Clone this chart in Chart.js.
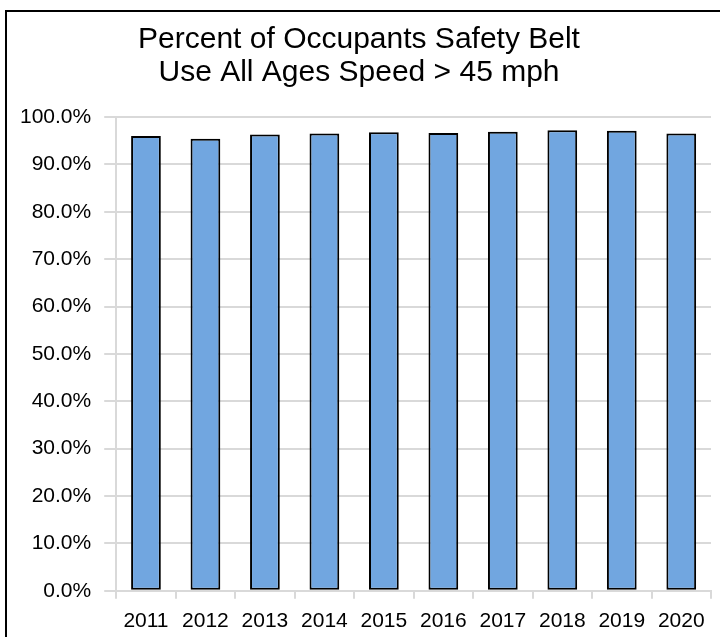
<!DOCTYPE html>
<html>
<head>
<meta charset="utf-8">
<script src="https://cdn.jsdelivr.net/npm/chart.js@4"></script>
<style>
    html, body { margin: 0; padding: 0; background: #fff; overflow: hidden; }
    #frame {
        position: absolute; left: 5px; top: 10px;
        width: 730px; height: 650px;
        border-left: 2px solid #000; border-top: 2px solid #000;
    }
    #wrap { position: absolute; left: 0; top: 0; width: 720px; height: 644px; }
</style>
</head>
<body>
<div id="frame"></div>
<div id="wrap"><canvas id="beltChart"></canvas></div>
<script>
// years and belt use (%)
var years = ["2011", "2012", "2013", "2014", "2015", "2016", "2017", "2018", "2019", "2020"];
var beltUse = [96.0, 95.4, 96.3, 96.5, 96.8, 96.6, 96.9, 97.2, 97.1, 96.5];
var titleLines = ["Percent of Occupants Safety Belt", "Use All Ages Speed > 45 mph"];

var fontName = "'Liberation Sans', Arial, sans-serif";
var gridColor = "#d9d9d9";

new Chart("beltChart", {
    type: "bar",
    data: {
        labels: years,
        datasets: [{
            data: beltUse,
            backgroundColor: "#71a6e0",
            borderColor: "#000000",
            borderWidth: 2,
            borderSkipped: false,
            categoryPercentage: 1,
            barPercentage: 0.5
        }]
    },
    options: {
        responsive: true,
        maintainAspectRatio: false,
        animation: false,
        layout: {
            padding: { left: 7, right: 9, top: 0, bottom: 0 }
        },
        plugins: {
            legend: { display: false },
            tooltip: { enabled: false },
            title: {
                display: true,
                text: titleLines,
                color: "#000",
                font: { family: fontName, size: 30, weight: "normal", lineHeight: 1.1 },
                padding: { top: 23, bottom: 28 }
            }
        },
        scales: {
            x: {
                grid: {
                    display: true,
                    drawOnChartArea: false,
                    drawTicks: true,
                    tickLength: 8,
                    color: gridColor,
                    lineWidth: 2
                },
                border: { color: gridColor, width: 2 },
                ticks: {
                    color: "#000",
                    padding: 10,
                    font: { family: fontName, size: 21 }
                }
            },
            y: {
                min: 0,
                max: 100,
                grid: {
                    color: gridColor,
                    lineWidth: 2,
                    tickLength: 12
                },
                border: { color: gridColor, width: 2 },
                ticks: {
                    stepSize: 10,
                    color: "#000",
                    padding: 13,
                    font: { family: fontName, size: 21 },
                    callback: function (value) {
                        return value.toFixed(1) + "%";
                    }
                }
            }
        }
    }
});
</script>
</body>
</html>
